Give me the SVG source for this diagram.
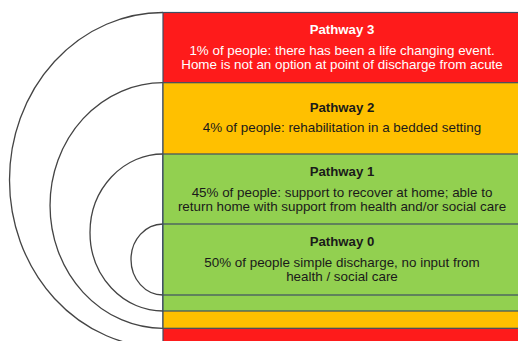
<svg xmlns="http://www.w3.org/2000/svg" width="518" height="341" viewBox="0 0 518 341">
<style>
.band{stroke:#3e4f63;stroke-width:1.2}
.arc{fill:none;stroke:#444;stroke-width:1.3}
text{font-family:"Liberation Sans",Arial,sans-serif;font-size:13.4px;text-anchor:middle}
.t{font-weight:bold;font-size:13.2px}
.w{fill:#fff}
.k{fill:#1a1a1a}
</style>
<rect width="518" height="341" fill="#fff"/>
<g id="connectors">
<path class="arc" d="M163,12.5 A153.5,167.5 0 0 0 163,347.5"/>
<path class="arc" d="M163,82.7 A113,122.8 0 0 0 163,328.3"/>
<path class="arc" d="M163,154 A73,78.5 0 0 0 163,311"/>
<path class="arc" d="M163,224 A32,35.5 0 0 0 163,295"/>
</g>
<g id="pathway3">
<rect class="band" x="163" y="12.5" width="360" height="335" fill="#fe1b1b"/>
<text class="t w" x="342" y="34">Pathway 3</text>
<text class="w" x="342" y="55">1% of people: there has been a life changing event.</text>
<text class="w" x="342" y="69">Home is not an option at point of discharge from acute</text>
</g>
<g id="pathway2">
<rect class="band" x="163" y="82.7" width="360" height="245.6" fill="#ffc000"/>
<text class="t k" x="342" y="112">Pathway 2</text>
<text class="k" x="342" y="131.5">4% of people: rehabilitation in a bedded setting</text>
</g>
<g id="pathway1">
<rect class="band" x="163" y="154" width="360" height="157" fill="#92d050"/>
<text class="t k" x="342" y="175.7">Pathway 1</text>
<text class="k" x="342" y="196.7">45% of people: support to recover at home; able to</text>
<text class="k" x="342" y="210.7">return home with support from health and/or social care</text>
</g>
<g id="pathway0">
<rect class="band" x="163" y="224" width="360" height="71" fill="#92d050"/>
<text class="t k" x="342" y="245.7">Pathway 0</text>
<text class="k" x="342" y="266.7">50% of people simple discharge, no input from</text>
<text class="k" x="342" y="280.7">health / social care</text>
</g>
</svg>
